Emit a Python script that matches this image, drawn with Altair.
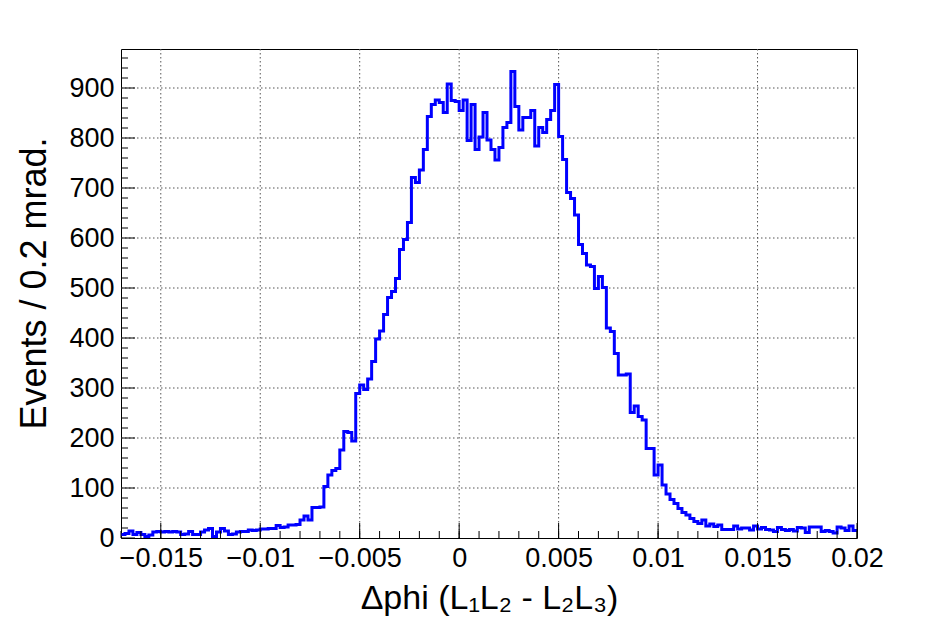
import altair as alt
import pandas as pd

# Histogram: delta phi, 185 bins of 0.0002 from -0.017 to 0.02
x_low = -0.017
x_high = 0.02
bin_width = 0.0002

counts = [
    7, 9, 14, 7, 11, 7, 3, 6, 12, 13,
    12, 13, 12, 13, 12, 7, 8, 13, 7, 7,
    12, 16, 19, 3, 12, 19, 14, 7, 8, 12,
    13, 13, 16, 15, 16, 18, 18, 19, 19, 25,
    21, 22, 26, 26, 27, 36, 44, 36, 61, 61,
    62, 103, 126, 135, 139, 176, 213, 211, 194, 289,
    306, 297, 318, 353, 398, 414, 447, 481, 493, 519,
    577, 597, 631, 721, 711, 736, 777, 843, 867, 876,
    871, 851, 908, 875, 873, 855, 876, 795, 867, 777,
    802, 851, 796, 777, 756, 781, 821, 831, 933, 863,
    816, 841, 841, 855, 784, 821, 811, 837, 855, 907,
    803, 757, 691, 679, 646, 587, 569, 546, 543, 499,
    523, 501, 420, 413, 369, 326, 326, 328, 251, 264,
    243, 236, 179, 179, 126, 146, 106, 88, 77, 69,
    59, 51, 46, 39, 33, 29, 36, 24, 28, 23,
    26, 17, 17, 17, 24, 18, 20, 20, 16, 24,
    18, 21, 17, 16, 13, 21, 17, 15, 17, 14,
    21, 20, 11, 22, 22, 22, 13, 15, 13, 10,
    22, 20, 15, 24, 15,
]

x_major = [-0.015, -0.01, -0.005, 0, 0.005, 0.01, 0.015, 0.02]
x_grid = [-0.015, -0.01, -0.005, 0, 0.005, 0.01, 0.015]
x_minor = [round(-0.017 + 0.001 * k, 6) for k in range(38)]
y_major = [0, 100, 200, 300, 400, 500, 600, 700, 800, 900]
y_grid = [100, 200, 300, 400, 500, 600, 700, 800, 900]
y_minor = [v for v in range(20, 980, 20) if v % 100 != 0]
y_max = 978

W, H = 736, 489
FONT = "Liberation Sans"

edges = [round(x_low + i * bin_width, 6) for i in range(len(counts))] + [x_high]
hist_df = pd.DataFrame({"edge": edges, "count": counts + [counts[-1]]})

xscale = alt.Scale(domain=[x_low, x_high], nice=False, zero=False)
yscale = alt.Scale(domain=[0, y_max], nice=False, zero=True)

x_axis = alt.Axis(
    values=x_major, format="~g", grid=False, ticks=False, domain=False,
    labelFont=FONT, labelFontSize=27, labelColor="black", labelPadding=7,
    labelFlush=False, labelOverlap=False,
    title="Δphi (L₁L₂ - L₂L₃)", titleFont=FONT, titleFontSize=34,
    titleFontWeight="normal", titleColor="black", titleY=70,
    titleBaseline="alphabetic",
)
y_axis = alt.Axis(
    values=y_major, format="d", grid=False, ticks=False, domain=False,
    labelFont=FONT, labelFontSize=27, labelColor="black", labelPadding=7,
    labelFlush=False, labelOverlap=False,
    title="Events / 0.2 mrad.", titleFont=FONT, titleFontSize=36,
    titleFontWeight="normal", titleColor="black", titleX=-76, titleY=234,
    titleBaseline="alphabetic", titleAngle=-90, titleAlign="center",
)

grid_style = dict(color="#555555", strokeWidth=1, strokeDash=[1.5, 2.5])

xgrid = alt.Chart(pd.DataFrame({"v": x_grid})).mark_rule(**grid_style).encode(
    x=alt.X("v:Q", scale=xscale, axis=x_axis),
    y=alt.value(0), y2=alt.value(H),
)
ygrid = alt.Chart(pd.DataFrame({"v": y_grid})).mark_rule(**grid_style).encode(
    y=alt.Y("v:Q", scale=yscale, axis=y_axis),
    x=alt.value(0), x2=alt.value(W),
)

hist = alt.Chart(hist_df).mark_line(
    interpolate="step-after", color="#0000ff", strokeWidth=3, clip=True
).encode(
    x=alt.X("edge:Q", scale=xscale, axis=x_axis),
    y=alt.Y("count:Q", scale=yscale, axis=y_axis),
)

tick_style = dict(color="black", strokeWidth=1)
x_major_ticks = alt.Chart(pd.DataFrame({"v": x_major})).mark_rule(**tick_style).encode(
    x=alt.X("v:Q", scale=xscale, axis=x_axis), y=alt.value(H), y2=alt.value(H - 15)
)
x_minor_ticks = alt.Chart(pd.DataFrame({"v": x_minor})).mark_rule(**tick_style).encode(
    x=alt.X("v:Q", scale=xscale, axis=x_axis), y=alt.value(H), y2=alt.value(H - 7)
)
y_major_ticks = alt.Chart(pd.DataFrame({"v": y_major})).mark_rule(**tick_style).encode(
    y=alt.Y("v:Q", scale=yscale, axis=y_axis), x=alt.value(0), x2=alt.value(14)
)
y_minor_ticks = alt.Chart(pd.DataFrame({"v": y_minor})).mark_rule(**tick_style).encode(
    y=alt.Y("v:Q", scale=yscale, axis=y_axis), x=alt.value(0), x2=alt.value(7)
)

chart = alt.layer(
    xgrid, ygrid, hist, x_major_ticks, x_minor_ticks, y_major_ticks, y_minor_ticks
).properties(
    width=W, height=H,
    autosize=alt.AutoSizeParams(type="none"),
    padding={"left": 113, "top": 41, "right": 60, "bottom": 80},
    background="white",
).configure_view(
    stroke="black", strokeWidth=1, fill="white"
)

chart.save("out.html", embed_options={"renderer": "svg", "actions": False})
